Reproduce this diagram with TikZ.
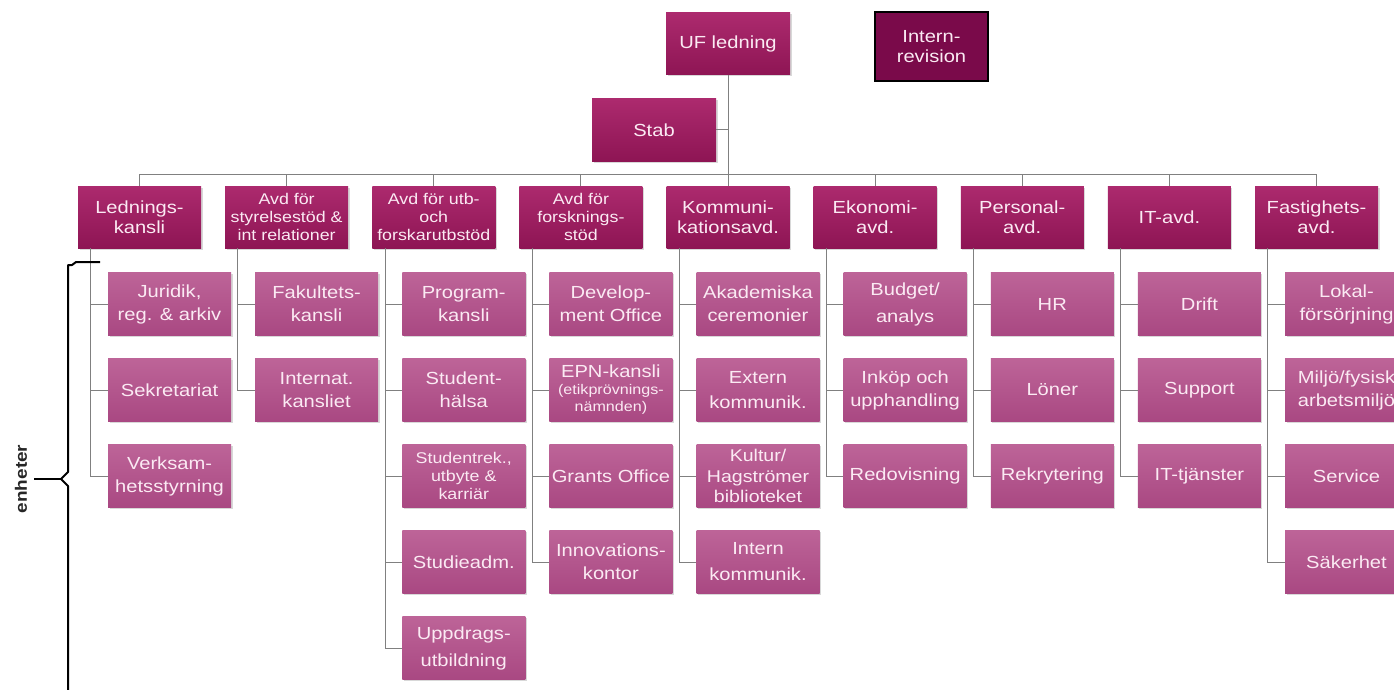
\documentclass[tikz,border=0pt]{standalone}
\usepackage{fontspec}
\setmainfont{Liberation Sans}[FakeStretch=1.15]
\usetikzlibrary{shadows}
\definecolor{dtop}{HTML}{AC2A6E}
\definecolor{dbot}{HTML}{8E1554}
\definecolor{ctop}{HTML}{BD6498}
\definecolor{cbot}{HTML}{A94882}
\definecolor{irev}{HTML}{7A0A4A}
\definecolor{txt}{HTML}{FBEAF3}
\definecolor{conn}{HTML}{808080}
\newcommand\fA{\fontsize{17.5}{20}\selectfont}
\newcommand\fB{\fontsize{15.5}{18}\selectfont}
\newcommand\fC{\fontsize{17.5}{23}\selectfont}
\newcommand\fS{\fontsize{14}{12}\selectfont}
\tikzset{
  base/.style={minimum width=123pt, minimum height=62pt, inner sep=1pt, align=center, text=txt,
    drop shadow={shadow xshift=1.5pt, shadow yshift=-1.5pt, opacity=0.3, fill=gray}},
  dept/.style={base, top color=dtop, bottom color=dbot, font=\fA},
  child/.style={base, minimum height=63pt, top color=ctop, bottom color=cbot, font=\fC},
  connline/.style={draw=conn, line width=1pt},
}
\begin{document}
\begin{tikzpicture}[x=1pt,y=-1pt]
\clip (0,0) rectangle (1394,690);
\fill[white] (0,0) rectangle (1394,690);
% top
\node[dept, minimum width=124pt] (uf) at (728,44) {UF ledning};
\node[minimum width=113pt, minimum height=69pt, fill=irev, draw=black, line width=1.5pt, text=txt, font=\fA, align=center, inner sep=1pt] (irev) at (931.5,46.5) {Intern-\\revision};
\node[dept, minimum width=124pt] (stab) at (654,130) {Stab};
\coordinate (bar) at (728,174);
% departments
\node[dept] (d1) at (139.5,217) {Lednings-\\kansli};
\node[dept, font=\fB] (d2) at (286.6,217) {Avd för\\styrelsestöd \&\\int relationer};
\node[dept, font=\fB] (d3) at (433.75,217) {Avd för utb-\\och\\forskarutbstöd};
\node[dept, font=\fB] (d4) at (580.9,217) {Avd för\\forsknings-\\stöd};
\node[dept] (d5) at (728,217) {Kommuni-\\kationsavd.};
\node[dept] (d6) at (875.1,217) {Ekonomi-\\avd.};
\node[dept] (d7) at (1022.25,217) {Personal-\\avd.};
\node[dept] (d8) at (1169.4,217) {IT-avd.};
\node[dept] (d9) at (1316.5,217) {Fastighets-\\avd.};
% children col 1
\node[child] (c1a) at (169.5,304) {Juridik,\\reg. \& arkiv};
\node[child] (c1b) at (169.5,390) {Sekretariat};
\node[child] (c1c) at (169.5,476) {Verksam-\\hetsstyrning};
% col 2
\node[child] (c2a) at (316.6,304) {Fakultets-\\kansli};
\node[child] (c2b) at (316.6,390) {Internat.\\kansliet};
% col 3
\node[child] (c3a) at (463.75,304) {Program-\\kansli};
\node[child] (c3b) at (463.75,390) {Student-\\hälsa};
\node[child, font=\fB] (c3c) at (463.75,476) {Studentrek.,\\utbyte \&\\karriär};
\node[child] (c3d) at (463.75,562) {Studieadm.};
\node[child, font=\fontsize{17.5}{27}\selectfont] (c3e) at (463.75,648) {Uppdrags-\\utbildning};
% col 4
\node[child] (c4a) at (610.9,304) {Develop-\\ment Office};
\node[child, font=\fA] (c4b) at (610.9,390) {EPN-kansli\\[-3pt]{\fS (etikprövnings-}\\[-3pt]{\fS nämnden)}};
\node[child] (c4c) at (610.9,476) {Grants Office};
\node[child] (c4d) at (610.9,562) {Innovations-\\kontor};
% col 5
\node[child] (c5a) at (758,304) {Akademiska\\ceremonier};
\node[child, font=\fontsize{17.5}{25}\selectfont] (c5b) at (758,390) {Extern\\kommunik.};
\node[child, font=\fontsize{17}{20.5}\selectfont] (c5c) at (758,476) {Kultur/\\Hagströmer\\biblioteket};
\node[child, font=\fontsize{17.5}{26}\selectfont] (c5d) at (758,562) {Intern\\kommunik.};
% col 6
\node[child, font=\fontsize{17.5}{27}\selectfont] (c6a) at (905.1,304) {Budget/\\analys};
\node[child] (c6b) at (905.1,390) {Inköp och\\upphandling};
\node[child] (c6c) at (905.1,476) {Redovisning};
% col 7
\node[child] (c7a) at (1052.25,304) {HR};
\node[child] (c7b) at (1052.25,390) {Löner};
\node[child] (c7c) at (1052.25,476) {Rekrytering};
% col 8
\node[child] (c8a) at (1199.4,304) {Drift};
\node[child] (c8b) at (1199.4,390) {Support};
\node[child] (c8c) at (1199.4,476) {IT-tjänster};
% col 9
\node[child] (c9a) at (1346.5,304) {Lokal-\\försörjning};
\node[child] (c9b) at (1346.5,390) {Miljö/fysisk\\arbetsmiljö};
\node[child] (c9c) at (1346.5,476) {Service};
\node[child] (c9d) at (1346.5,562) {Säkerhet};
% connectors top
\draw[connline] (uf.south) -- (bar);
\draw[connline] (stab.east) -- (stab.east -| uf.south);
\foreach \d in {d1,d2,d3,d4,d5,d6,d7,d8,d9}{
  \draw[connline] (\d.north) |- (bar);
}
% connectors to children
\foreach \d/\cs in {d1/{c1a,c1b,c1c}, d2/{c2a,c2b}, d3/{c3a,c3b,c3c,c3d,c3e}, d4/{c4a,c4b,c4c,c4d}, d5/{c5a,c5b,c5c,c5d}, d6/{c6a,c6b,c6c}, d7/{c7a,c7b,c7c}, d8/{c8a,c8b,c8c}, d9/{c9a,c9b,c9c,c9d}}{
  \foreach \c in \cs {
    \draw[connline] ([xshift=13pt]\d.south west) |- (\c.west);
  }
}
% brace
\coordinate (bt) at (100,262);
\coordinate (bm) at (34,479);
\coordinate (bb) at (68,692);
\draw[black, line width=2pt, line join=round] (bt) -- (76,262) -- (72,265) -- (68,265) -- (68,472) -- (61,479) -- (68,486) -- (bb);
\draw[black, line width=2pt] (61,479) -- (bm);
\node[rotate=90, font=\bfseries\fontsize{16.5}{16.5}\selectfont, text=black!85] (enh) at (21,479) {enheter};
\end{tikzpicture}
\end{document}
